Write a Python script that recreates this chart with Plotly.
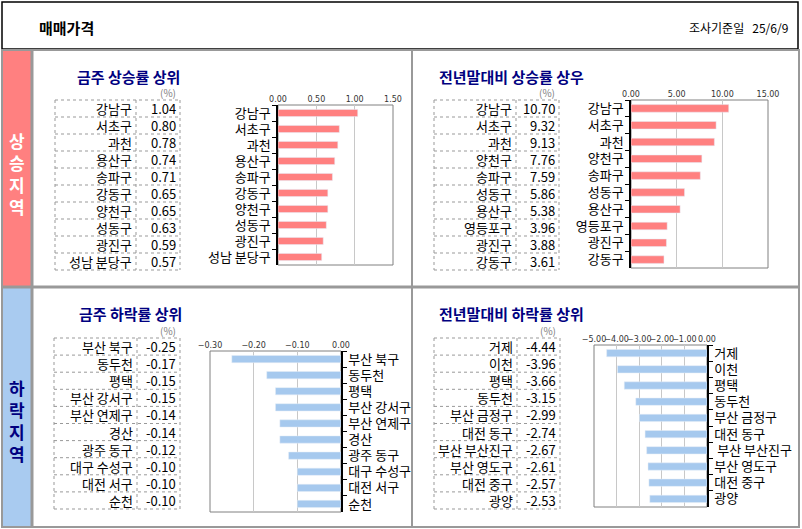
import plotly.graph_objects as go

W, H = 802, 529

# 금주 상승률 상위
up_week_names = ['강남구', '서초구', '과천', '용산구', '송파구', '강동구', '양천구', '성동구', '광진구', '성남 분당구']
up_week_vals = [1.04, 0.80, 0.78, 0.74, 0.71, 0.65, 0.65, 0.63, 0.59, 0.57]

# 전년말대비 상승률 상위
up_year_names = ['강남구', '서초구', '과천', '양천구', '송파구', '성동구', '용산구', '영등포구', '광진구', '강동구']
up_year_vals = [10.70, 9.32, 9.13, 7.76, 7.59, 5.86, 5.38, 3.96, 3.88, 3.61]

# 금주 하락률 상위
down_week_names = ['부산 북구', '동두천', '평택', '부산 강서구', '부산 연제구', '경산', '광주 동구', '대구 수성구', '대전 서구', '순천']
down_week_vals = [-0.25, -0.17, -0.15, -0.15, -0.14, -0.14, -0.12, -0.10, -0.10, -0.10]

# 전년말대비 하락률 상위
down_year_names = ['거제', '이천', '평택', '동두천', '부산 금정구', '대전 동구', ' 부산 부산진구', '부산 영도구', '대전 중구', '광양']
down_year_vals = [-4.44, -3.96, -3.66, -3.15, -2.99, -2.74, -2.67, -2.61, -2.57, -2.53]

FONT = 'Noto Sans CJK KR'
PINK = '#FF8080'
BLUE = '#A6C9EE'
NAVY = '#000080'
GRAY = '#999999'


def px(x):
    return x / W


def py(y):
    return 1 - y / H


# pixel layout of each panel: title, table box, chart box
panels = [
    dict(title='금주 상승률 상위', tx=75, ty=76, names=up_week_names, vals=up_week_vals,
         tab=(55, 136, 180, 100, 270), chart=(278, 393, 105, 265),
         rng=[0, 1.5], dtick=0.5, color=PINK, side='left'),
    dict(title='전년말대비 상승률 상우', tx=437, ty=76, names=up_year_names, vals=up_year_vals,
         tab=(434, 516, 559, 100, 270), chart=(631, 768, 100, 268),
         rng=[0, 15], dtick=5, color=PINK, side='left'),
    dict(title='금주 하락률 상위', tx=77, ty=313, names=down_week_names, vals=down_week_vals,
         tab=(54, 137, 180, 338, 509), chart=(210, 341, 351, 512),
         rng=[-0.3, 0], dtick=0.1, color=BLUE, side='right'),
    dict(title='전년말대비 하락률 상위', tx=437, ty=313, names=down_year_names, vals=down_year_vals,
         tab=(434, 517, 560, 338, 509), chart=(594, 707, 345, 507),
         rng=[-5, 0], dtick=1, color=BLUE, side='right'),
]

fig = go.Figure()
shapes = []
annotations = []

# header box
shapes.append(dict(type='rect', xref='paper', yref='paper', x0=px(2), x1=px(798), y0=py(49), y1=py(2),
                   line=dict(color='black', width=1.5)))
annotations.append(dict(x=px(37), y=py(27), xref='paper', yref='paper', text='<b>매매가격</b>',
                        showarrow=False, xanchor='left', yanchor='middle',
                        font=dict(family=FONT, size=15, color='black')))
annotations.append(dict(x=px(790), y=py(27), xref='paper', yref='paper', text='조사기준일   25/6/9',
                        showarrow=False, xanchor='right', yanchor='middle',
                        font=dict(family=FONT, size=12, color='black')))

# left colour strips
shapes.append(dict(type='rect', xref='paper', yref='paper', x0=px(3), x1=px(31), y0=py(286), y1=py(51),
                   fillcolor=PINK, line=dict(width=0)))
shapes.append(dict(type='rect', xref='paper', yref='paper', x0=px(3), x1=px(31), y0=py(527), y1=py(288),
                   fillcolor='#A9CBF0', line=dict(width=0)))
annotations.append(dict(x=px(17), y=py(173), xref='paper', yref='paper', text='<b>상<br>승<br>지<br>역</b>',
                        showarrow=False, xanchor='center', yanchor='middle',
                        font=dict(family=FONT, size=17, color='white')))
annotations.append(dict(x=px(17), y=py(420), xref='paper', yref='paper', text='<b>하<br>락<br>지<br>역</b>',
                        showarrow=False, xanchor='center', yanchor='middle',
                        font=dict(family=FONT, size=17, color=NAVY)))

# grey frame lines
shapes.append(dict(type='rect', xref='paper', yref='paper', x0=px(2), x1=px(799), y0=py(527), y1=py(50),
                   line=dict(color=GRAY, width=2)))
shapes.append(dict(type='line', xref='paper', yref='paper', x0=px(32), x1=px(32), y0=py(527), y1=py(50),
                   line=dict(color=GRAY, width=3)))
shapes.append(dict(type='line', xref='paper', yref='paper', x0=px(2), x1=px(799), y0=py(287), y1=py(287),
                   line=dict(color=GRAY, width=3)))
shapes.append(dict(type='line', xref='paper', yref='paper', x0=px(412), x1=px(412), y0=py(527), y1=py(50),
                   line=dict(color=GRAY, width=2)))

for i, p in enumerate(panels, start=1):
    xa = 'x' if i == 1 else f'x{i}'
    ya = 'y' if i == 1 else f'y{i}'

    # section title
    annotations.append(dict(x=px(p['tx']), y=py(p['ty']), xref='paper', yref='paper',
                            text=f"<b>{p['title']}</b>", showarrow=False, xanchor='left', yanchor='middle',
                            font=dict(family=FONT, size=15, color=NAVY)))

    # table with dotted borders
    x0, xd, x1, y0, y1 = p['tab']
    n = len(p['names'])
    rh = (y1 - y0) / n
    annotations.append(dict(x=px(x1 - 2), y=py(y0 - 8), xref='paper', yref='paper', text='(%)',
                            showarrow=False, xanchor='right', yanchor='middle',
                            font=dict(family=FONT, size=10, color='#808080')))
    for k in range(n + 1):
        yy = y0 + k * rh
        shapes.append(dict(type='line', xref='paper', yref='paper', x0=px(x0), x1=px(x1), y0=py(yy), y1=py(yy),
                           line=dict(color=GRAY, width=1, dash='dot')))
    for xx in (x0, xd, x1):
        shapes.append(dict(type='line', xref='paper', yref='paper', x0=px(xx), x1=px(xx), y0=py(y0), y1=py(y1),
                           line=dict(color=GRAY, width=1, dash='dot')))
    for k, (nm, v) in enumerate(zip(p['names'], p['vals'])):
        yc = y0 + (k + 0.5) * rh
        annotations.append(dict(x=px(xd - 2), y=py(yc), xref='paper', yref='paper', text=nm.strip(),
                                showarrow=False, xanchor='right', yanchor='middle',
                                font=dict(family=FONT, size=13, color='black')))
        annotations.append(dict(x=px(x1 - 2), y=py(yc), xref='paper', yref='paper', text=f'{v:.2f}',
                                showarrow=False, xanchor='right', yanchor='middle',
                                font=dict(family=FONT, size=13, color='black')))

    # bar chart
    fig.add_trace(go.Bar(x=p['vals'], y=p['names'], orientation='h', marker_color=p['color'],
                         width=0.45, xaxis=xa, yaxis=ya, showlegend=False, hoverinfo='x+y'))
    cx0, cx1, cy0, cy1 = p['chart']
    fig.layout[f'xaxis{i}' if i > 1 else 'xaxis'] = dict(
        domain=[px(cx0), px(cx1)], anchor=ya, range=p['rng'], dtick=p['dtick'], tick0=0,
        tickformat='.2f', side='top', showgrid=True, gridcolor='#c8c8c8', gridwidth=1,
        zeroline=False, showline=False, ticks='', tickangle=0, fixedrange=True, automargin=False,
        tickfont=dict(family='DejaVu Sans', size=8, color='#333333'))
    fig.layout[f'yaxis{i}' if i > 1 else 'yaxis'] = dict(
        domain=[py(cy1), py(cy0)], anchor=xa, type='category', autorange='reversed',
        side=p['side'], showline=True, linecolor='black', linewidth=1.5,
        ticks='outside', tickson='boundaries', ticklen=4, tickcolor='black', ticklabelstandoff=3,
        showgrid=False, fixedrange=True, automargin=False,
        tickfont=dict(family=FONT, size=13, color='black'))
    shapes.append(dict(type='rect', xref=f'{xa} domain', yref=f'{ya} domain', x0=0, x1=1, y0=0, y1=1,
                       line=dict(color='#808080', width=1), layer='below'))

fig.update_layout(
    width=W, height=H,
    margin=dict(l=0, r=0, t=0, b=0, pad=0),
    paper_bgcolor='white', plot_bgcolor='white',
    font=dict(family=FONT),
    shapes=shapes, annotations=annotations,
    bargap=0.5,
)

fig.write_html('out.html', config={'displayModeBar': False},
               post_script='document.body.style.margin = "0";')
